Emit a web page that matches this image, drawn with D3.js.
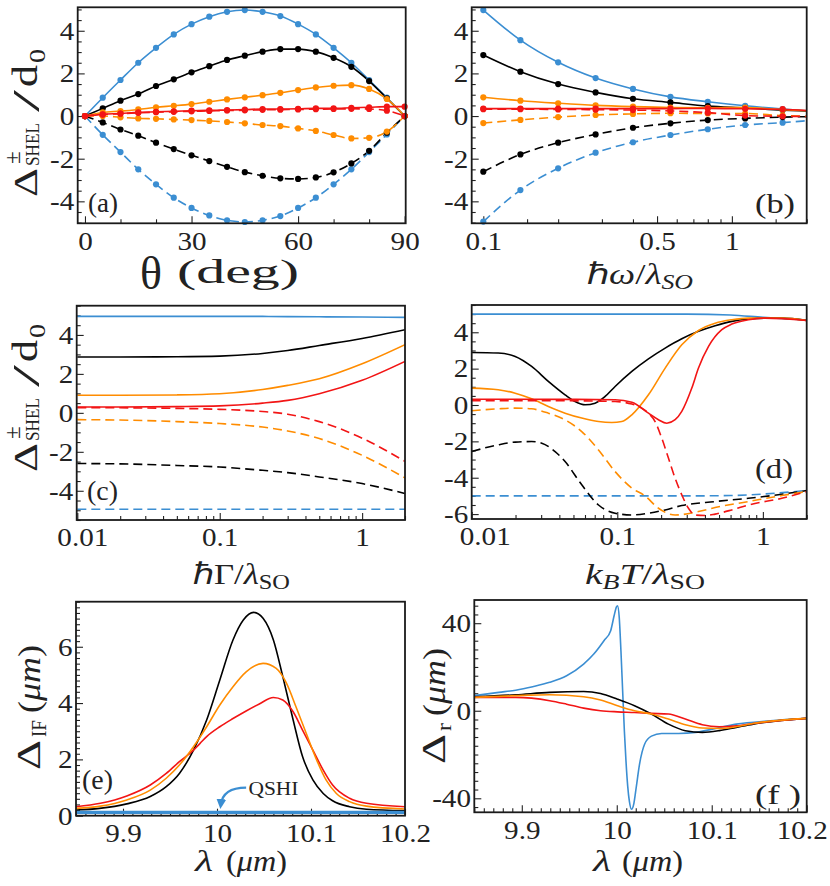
<!DOCTYPE html>
<html><head><meta charset="utf-8">
<script src="https://cdn.jsdelivr.net/npm/d3@7"></script>
<style>
body{margin:0;background:#fff}
svg text{font-family:"Liberation Serif","Times New Roman",Times,"Nimbus Roman",serif;fill:#222}
</style></head><body>
<svg id="c" width="830" height="886"></svg>
<script>
// ---------------- DATA ----------------
// (a) vs theta (deg)
const thetaDeg = [0,5,10,15,20,25,30,35,40,45,50,55,60,65,70,75,80,85,90];
const aBlueSolid   = [0,0.86,1.69,2.5,3.2,3.83,4.31,4.66,4.89,4.97,4.89,4.69,4.31,3.83,3.2,2.5,1.69,0.86,0];
const aBlueDashed  = [0,-0.88,-1.69,-2.5,-3.2,-3.83,-4.31,-4.66,-4.89,-4.97,-4.89,-4.69,-4.31,-3.83,-3.2,-2.5,-1.69,-0.86,0];
const aBlackSolid  = [0,0.36,0.72,1.03,1.41,1.72,2.05,2.34,2.63,2.83,3.02,3.14,3.14,3.02,2.73,2.31,1.64,0.83,0];
const aBlackDashed = [0,-0.3,-0.63,-0.92,-1.25,-1.55,-1.84,-2.11,-2.38,-2.63,-2.8,-2.92,-2.95,-2.88,-2.64,-2.22,-1.63,-0.78,0];
const aOrangeSolid = [0,0.17,0.23,0.31,0.41,0.48,0.56,0.67,0.78,0.88,0.98,1.09,1.22,1.34,1.42,1.45,1.27,0.8,0];
const aOrangeDashed= [0,0,-0.06,-0.11,-0.13,-0.16,-0.19,-0.23,-0.28,-0.34,-0.42,-0.47,-0.58,-0.7,-0.89,-1.05,-1.02,-0.73,0];
const aRedSolid    = [0,0.08,0.12,0.17,0.2,0.22,0.25,0.27,0.28,0.3,0.33,0.33,0.34,0.36,0.36,0.39,0.41,0.44,0.44];
const aRedDashed   = [0,0.07,0.11,0.15,0.18,0.2,0.22,0.24,0.26,0.27,0.29,0.3,0.31,0.32,0.33,0.34,0.33,0.25,0];

// (b) vs hbar omega / lambda_SO  (last x has no marker)
const omegaX        = [0.1,0.141,0.2,0.283,0.4,0.566,0.8,1.131,1.6,2.0];
const bBlueSolid    = [4.97,3.56,2.52,1.78,1.27,0.90,0.67,0.48,0.33,0.25];
const bBlackSolid   = [2.86,2.08,1.50,1.11,0.81,0.64,0.47,0.38,0.28,0.24];
const bOrangeSolid  = [0.88,0.72,0.60,0.50,0.44,0.40,0.39,0.40,0.30,0.25];
const bRedSolid     = [0.35,0.35,0.35,0.35,0.35,0.35,0.36,0.34,0.32,0.26];
const bRedDashed    = [0.32,0.32,0.31,0.30,0.28,0.24,0.16,0.02,-0.01,-0.02];
const bOrangeDashed = [-0.33,-0.18,-0.05,0.05,0.10,0.13,0.12,0.12,0.02,-0.01];
const bBlackDashed  = [-2.61,-1.80,-1.25,-0.86,-0.55,-0.34,-0.19,-0.11,-0.05,-0.03];
const bBlueDashed   = [-4.95,-3.47,-2.45,-1.72,-1.23,-0.89,-0.62,-0.42,-0.31,-0.22];

// (c) vs hbar Gamma / lambda_SO
const gammaX        = [0.01,0.02,0.05,0.1,0.2,0.3,0.5,1,2];
const cBlueSolid    = [4.95,4.95,4.95,4.95,4.95,4.94,4.93,4.92,4.9];
const cBlackSolid   = [2.87,2.87,2.88,2.91,3.05,3.2,3.46,3.82,4.27];
const cOrangeSolid  = [0.9,0.9,0.92,0.98,1.2,1.41,1.75,2.52,3.5];
const cRedSolid     = [0.3,0.3,0.32,0.36,0.5,0.64,0.98,1.67,2.64];
const cRedDashed    = [0.27,0.26,0.23,0.18,0.07,-0.07,-0.45,-1.3,-2.49];
const cOrangeDashed = [-0.35,-0.37,-0.45,-0.55,-0.73,-0.93,-1.32,-2.18,-3.34];
const cBlackDashed  = [-2.6,-2.62,-2.7,-2.78,-2.95,-3.07,-3.29,-3.63,-4.14];
const cBlueDashed   = [-4.95,-4.95,-4.95,-4.95,-4.95,-4.95,-4.95,-4.95,-4.95];

// (d) vs k_B T / lambda_SO
const dBlueSolidX   = [0.01,0.3,0.6,1,2];
const dBlueSolid    = [5.0,5.0,4.95,4.82,4.68];
const dBlueDashedX  = [0.01,0.3,0.6,1,2];
const dBlueDashed   = [-5.0,-5.0,-4.98,-4.9,-4.7];
const dBlackSolidX  = [0.01,0.0152,0.0199,0.0258,0.0336,0.0438,0.0513,0.0601,0.0704,0.0825,0.0966,0.1259,0.1637,0.2133,0.2773,0.3612,0.47,0.612,0.796,1.037,1.35,2.0];
const dBlackSolid   = [2.89,2.86,2.67,2.12,1.3,0.56,0.19,0.01,0.1,0.47,1.02,1.85,2.54,3.13,3.64,4.05,4.36,4.6,4.73,4.78,4.78,4.65];
const dOrangeSolidX = [0.01,0.0152,0.0199,0.0258,0.0336,0.0438,0.057,0.0743,0.0916,0.1074,0.1259,0.1637,0.2133,0.2773,0.3612,0.47,0.612,0.796,1.35,2.0];
const dOrangeSolid  = [0.93,0.84,0.65,0.34,-0.08,-0.45,-0.72,-0.91,-0.96,-0.91,-0.54,0.56,2.03,3.31,4.1,4.5,4.69,4.78,4.78,4.65];
const dRedSolidX    = [0.01,0.0199,0.0438,0.0966,0.1259,0.1637,0.1918,0.2188,0.2497,0.2773,0.325,0.3612,0.4234,0.5224,0.612,0.796,1.037,2.0];
const dRedSolid     = [0.32,0.32,0.31,0.29,0.15,-0.45,-0.81,-1.0,-0.81,-0.35,0.93,2.03,3.22,4.14,4.45,4.69,4.78,4.65];
const dRedDashedX   = [0.01,0.0199,0.0438,0.0966,0.1259,0.1474,0.1637,0.1818,0.2022,0.2248,0.2497,0.2773,0.3083,0.3426,0.4016,0.47,0.612,0.796,1.35,2.0];
const dRedDashed    = [0.23,0.23,0.23,0.19,0.05,-0.17,-0.45,-0.91,-1.83,-2.93,-4.03,-4.94,-5.68,-6.05,-6.08,-6.0,-5.77,-5.5,-5.13,-4.76];
const dOrangeDashedX= [0.01,0.0152,0.0199,0.0258,0.0336,0.0438,0.057,0.0743,0.0966,0.1259,0.1552,0.1918,0.2497,0.3612,0.47,0.796,1.35,2.0];
const dOrangeDashed = [-0.32,-0.21,-0.17,-0.21,-0.45,-0.82,-1.46,-2.47,-3.66,-4.57,-5.0,-5.68,-6.05,-5.86,-5.64,-5.31,-4.98,-4.76];
const dBlackDashedX = [0.01,0.0152,0.0199,0.0258,0.0303,0.0374,0.0438,0.057,0.0743,0.0966,0.1259,0.1637,0.2133,0.2773,0.47,0.796,1.35,2.0];
const dBlackDashed  = [-2.56,-2.19,-2.04,-2.01,-2.1,-2.56,-3.11,-4.39,-5.5,-5.95,-6.05,-5.95,-5.77,-5.53,-5.31,-5.13,-4.91,-4.7];

// (e) Delta_IF vs lambda (um)
const eBlackX  = [9.85,9.875,9.904,9.929,9.946,9.96,9.975,9.989,10.003,10.017,10.028,10.039,10.049,10.06,10.07,10.081,10.091,10.102,10.113,10.123,10.141,10.159,10.2];
const eBlack   = [0.2,0.26,0.42,0.68,1.03,1.5,2.33,3.4,4.82,6.24,6.95,7.22,7.01,6.24,4.94,3.4,2.1,1.27,0.79,0.53,0.32,0.23,0.18];
const eOrangeX = [9.85,9.876,9.904,9.929,9.946,9.96,9.975,9.989,10.003,10.017,10.031,10.049,10.063,10.074,10.084,10.095,10.106,10.116,10.127,10.141,10.159,10.2];
const eOrange  = [0.26,0.34,0.56,0.91,1.33,1.8,2.45,3.16,3.93,4.58,5.11,5.41,5.23,4.7,3.87,2.92,1.98,1.27,0.79,0.5,0.34,0.24];
const eRedX    = [9.85,9.876,9.904,9.929,9.946,9.96,9.975,9.982,9.989,10.003,10.017,10.031,10.045,10.06,10.07,10.081,10.091,10.102,10.113,10.123,10.141,10.159,10.2];
const eRed     = [0.32,0.44,0.7,1.09,1.5,1.92,2.33,2.57,2.81,3.16,3.45,3.72,3.97,4.2,4.11,3.69,3.04,2.33,1.62,1.09,0.62,0.44,0.32];
const eBlueX   = [9.85,10.2];
const eBlue    = [0.12,0.12];

// (f) Delta_r vs lambda (um)
const fBlueX  = [9.85,9.8758,9.8936,9.9115,9.9294,9.9472,9.9651,9.9758,9.9865,9.9936,9.9972,9.9997,10.0008,10.0026,10.0044,10.0062,10.008,10.0097,10.0115,10.0133,10.0155,10.018,10.0205,10.024,10.0294,10.0365,10.0472,10.0651,10.0829,10.1008,10.1258,10.1616,10.2];
const fBlue   = [6.9,8.4,9.4,11,13,16,21.3,25.9,32,36.6,43.4,47.5,48,42.7,27.4,9.1,-9.1,-22.9,-34.3,-41.4,-45,-42.4,-35,-24.4,-15.2,-11.6,-10.4,-10.4,-9.9,-8.4,-6.1,-4.6,-3.5];
const fBlackX = [9.85,9.8936,9.9294,9.9651,9.9829,10.0008,10.0187,10.0365,10.0544,10.0722,10.0901,10.108,10.1258,10.1437,10.2];
const fBlack  = [6.4,7.3,8.4,8.8,7.9,5.3,2.3,-1.5,-6.1,-9.1,-9.9,-9.1,-7.6,-6.1,-3.5];
const fOrangeX= [9.85,9.8936,9.9294,9.9651,9.9829,10.0008,10.0187,10.0365,10.0544,10.0722,10.0901,10.108,10.1258,10.1437,10.2];
const fOrange = [6.1,6.9,7.3,6.4,4.9,2.3,0,-1.5,-3.8,-6.4,-7.9,-8.1,-7.3,-5.8,-3.5];
const fRedX   = [9.85,9.8936,9.9294,9.9472,9.9651,9.9829,10.0008,10.0187,10.0365,10.0544,10.0722,10.0901,10.108,10.1258,10.1437,10.2];
const fRed    = [6.1,6.1,4.6,3.0,1.2,0,-0.5,-0.8,-1.2,-1.5,-3.8,-6.4,-7.3,-6.9,-5.8,-3.5];

// tick labels
const aXTicks = [0,30,60,90];
const shelYTicks = [-4,-2,0,2,4];
const bXTicks = [0.1,0.5,1];
const logXTicks = [0.01,0.1,1];
const dYTicks = [-6,-4,-2,0,2,4];
const lamXTicks = [9.9,10,10.1,10.2];
const eYTicks = [0,2,4,6];
const fYTicks = [-40,0,40];

// ---------------- DRAWING ----------------
const BLUE="#3b8ed2", BLACK="#000000", ORANGE="#ff8c00", RED="#f21515";
const svg = d3.select("#c");
const defs = svg.append("defs");
const SX = 1.12; // horizontal stretch of tick labels
const TFS = 26;  // tick label font size

function inDom(v, d){ const lo=Math.min(d[0],d[1]), hi=Math.max(d[0],d[1]); return v>=lo-1e-9 && v<=hi+1e-9; }

function panel(o){
  const [l,t,r,b]=o.box;
  const x=(o.xlog?d3.scaleLog():d3.scaleLinear()).domain(o.xd).range([l,r]);
  const y=d3.scaleLinear().domain(o.yd).range([b,t]);
  const id="clip-"+o.id;
  defs.append("clipPath").attr("id",id).append("rect").attr("x",l).attr("y",t).attr("width",r-l).attr("height",b-t);
  const g=svg.append("g");
  const style=(sel)=>{
    sel.attr("font-size",null).attr("font-family",null);
    sel.select(".domain").remove();
    sel.selectAll(".tick line").attr("stroke","#222").attr("stroke-width",1.1);
    sel.selectAll(".tick text").attr("font-size",TFS).attr("fill","#222").attr("transform",`scale(${SX},1)`);
  };
  const xMinor=o.xMinor.filter(v=>inDom(v,o.xd)&&!o.xMajor.includes(v));
  const yMinor=o.yMinor.filter(v=>inDom(v,o.yd)&&!o.yMajor.includes(v));
  g.append("g").attr("transform",`translate(0,${b})`).call(d3.axisBottom(x).tickValues(xMinor).tickSize(-4).tickFormat("")).call(style);
  const xa=g.append("g").attr("transform",`translate(0,${b})`).call(d3.axisBottom(x).tickValues(o.xMajor).tickSize(-7).tickPadding(8).tickFormat(o.xFmt||(d=>String(d)))).call(style);
  if(o.firstShift) xa.select(".tick text").attr("x",o.firstShift/SX);
  if(o.lastShift) d3.select(xa.selectAll(".tick text").nodes().pop()).attr("x",o.lastShift/SX);
  g.append("g").attr("transform",`translate(${l},0)`).call(d3.axisLeft(y).tickValues(yMinor).tickSize(-4).tickFormat("")).call(style);
  g.append("g").attr("transform",`translate(${l},0)`).call(d3.axisLeft(y).tickValues(o.yMajor).tickSize(-7).tickPadding(3).tickFormat(d=>String(d))).call(style);
  const plot=g.append("g").attr("clip-path",`url(#${id})`);
  const marks=g.append("g");
  g.append("rect").attr("x",l).attr("y",t).attr("width",r-l).attr("height",b-t)
    .attr("fill","none").attr("stroke","#1a1a1a").attr("stroke-width",1.8);
  return {x,y,plot,marks,g};
}

function series(p, xs, ys, color, dashed, nMarkers, width){
  const data=d3.zip(xs,ys);
  const line=d3.line().x(d=>p.x(d[0])).y(d=>p.y(d[1])).curve(d3.curveMonotoneX);
  p.plot.append("path").datum(data).attr("d",line).attr("fill","none")
    .attr("stroke",color).attr("stroke-width",width||1.6)
    .attr("stroke-dasharray",dashed?"9,5":null);
  if(nMarkers){
    p.marks.selectAll(null).data(data.slice(0,nMarkers)).enter().append("circle")
      .attr("cx",d=>p.x(d[0])).attr("cy",d=>p.y(d[1])).attr("r",3.1).attr("fill",color);
  }
}

function label(x,y,txt,len){
  const t=svg.append("text").attr("x",x).attr("y",y).attr("font-size",28).text(txt);
  if(len) t.attr("textLength",len).attr("lengthAdjust","spacingAndGlyphs");
}

function deltaShelTitle(xb, ys){
  const g=svg.append("g").attr("transform",`translate(${xb},${ys}) rotate(-90)`);
  g.append("text").attr("x",0).attr("y",0).attr("font-size",34).attr("textLength",29).attr("lengthAdjust","spacingAndGlyphs").text("Δ");
  g.append("text").attr("x",33).attr("y",-17).attr("font-size",23).text("±");
  g.append("text").attr("x",31).attr("y",2).attr("font-size",19).attr("textLength",43).attr("lengthAdjust","spacingAndGlyphs").text("SHEL");
  g.append("text").attr("x",85).attr("y",2).attr("font-size",38).attr("textLength",22).attr("lengthAdjust","spacingAndGlyphs").text("/");
  g.append("text").attr("x",110).attr("y",0).attr("font-size",35).attr("textLength",22).attr("lengthAdjust","spacingAndGlyphs").text("d");
  g.append("text").attr("x",134).attr("y",8).attr("font-size",23).attr("textLength",14).attr("lengthAdjust","spacingAndGlyphs").text("0");
}

function deltaTitle(xb, ys, sub, subLen){
  const g=svg.append("g").attr("transform",`translate(${xb},${ys}) rotate(-90)`);
  g.append("text").attr("x",0).attr("y",0).attr("font-size",34).attr("textLength",30).attr("lengthAdjust","spacingAndGlyphs").text("Δ");
  g.append("text").attr("x",33).attr("y",6).attr("font-size",21).attr("textLength",subLen).attr("lengthAdjust","spacingAndGlyphs").text(sub);
  const t=g.append("text").attr("x",33+subLen+7).attr("y",0).attr("font-size",31)
    .attr("textLength",68).attr("lengthAdjust","spacingAndGlyphs");
  t.append("tspan").text("(");
  t.append("tspan").attr("font-style","italic").text("μm");
  t.append("tspan").text(")");
}

// ----- (a) -----
const pa=panel({id:"a",box:[77.7,7.3,405.7,223.3],xd:[-2.05,90.3],yd:[-5.03,5.1],
  xMajor:aXTicks,xMinor:d3.range(0,91,10),yMajor:shelYTicks,yMinor:d3.range(-5,5.01,0.5)});
[[aBlueDashed,BLUE,1],[aBlueSolid,BLUE,0],[aBlackDashed,BLACK,1],[aBlackSolid,BLACK,0],
 [aOrangeDashed,ORANGE,1],[aOrangeSolid,ORANGE,0],[aRedDashed,RED,1],[aRedSolid,RED,0]]
 .forEach(s=>series(pa,thetaDeg,s[0],s[1],s[2],thetaDeg.length));
label(88,212,"(a)",30);
deltaShelTitle(37,197);
svg.append("text").attr("x",140).attr("y",289).attr("font-size",46).attr("textLength",22).attr("lengthAdjust","spacingAndGlyphs").text("θ");
svg.append("text").attr("x",177).attr("y",283).attr("font-size",33).attr("textLength",122).attr("lengthAdjust","spacingAndGlyphs").text("(deg)");

// ----- (b) -----
const pb=panel({id:"b",box:[471.7,7.3,806.7,223.3],xlog:true,xd:[0.0898,2.0],yd:[-5.03,5.1],
  xMajor:bXTicks,xMinor:[0.15,0.2,0.3,0.4,0.6,0.7,0.8,0.9,1.5,2],yMajor:shelYTicks,yMinor:d3.range(-5,5.01,0.5)});
[[bBlueDashed,BLUE,1],[bBlueSolid,BLUE,0],[bBlackDashed,BLACK,1],[bBlackSolid,BLACK,0],
 [bOrangeDashed,ORANGE,1],[bOrangeSolid,ORANGE,0],[bRedDashed,RED,1],[bRedSolid,RED,0]]
 .forEach(s=>series(pb,omegaX,s[0],s[1],s[2],9));
label(755,213,"(b)",40);
{const t=svg.append("text").attr("x",587).attr("y",284).attr("font-size",30).attr("textLength",106).attr("lengthAdjust","spacingAndGlyphs");
 t.append("tspan").text("ℏ");
 t.append("tspan").attr("font-style","italic").text("ω");
 t.append("tspan").text("/");
 t.append("tspan").attr("font-style","italic").text("λ");
 t.append("tspan").attr("font-style","italic").attr("font-size",21).attr("dy",5).text("SO");}

// ----- (c) -----
const pc=panel({id:"c",box:[76.7,305.7,405,520],xlog:true,xd:[0.0099,2.0],yd:[-5.5,5.5],firstShift:5,
  xMajor:logXTicks,xMinor:[0.02,0.03,0.04,0.05,0.06,0.07,0.08,0.09,0.2,0.3,0.4,0.5,0.6,0.7,0.8,0.9,2],
  yMajor:shelYTicks,yMinor:d3.range(-5.5,5.51,0.5)});
[[cBlueDashed,BLUE,1],[cBlueSolid,BLUE,0],[cBlackDashed,BLACK,1],[cBlackSolid,BLACK,0],
 [cOrangeDashed,ORANGE,1],[cOrangeSolid,ORANGE,0],[cRedDashed,RED,1],[cRedSolid,RED,0]]
 .forEach(s=>series(pc,gammaX,s[0],s[1],s[2],0));
label(87,500,"(c)",31);
deltaShelTitle(37,472);
{const t=svg.append("text").attr("x",193).attr("y",584).attr("font-size",30).attr("textLength",97).attr("lengthAdjust","spacingAndGlyphs");
 t.append("tspan").text("ℏΓ/");
 t.append("tspan").attr("font-style","italic").text("λ");
 t.append("tspan").attr("font-size",21).attr("dy",5).text("SO");}

// ----- (d) -----
const pd=panel({id:"d",box:[471.7,305,806.7,519],xlog:true,xd:[0.01,2.0],yd:[-6.27,5.5],firstShift:13,
  xMajor:logXTicks,xMinor:[0.02,0.03,0.04,0.05,0.06,0.07,0.08,0.09,0.2,0.3,0.4,0.5,0.6,0.7,0.8,0.9,2],
  yMajor:dYTicks,yMinor:d3.range(-6,5.51,0.5)});
series(pd,dBlueDashedX,dBlueDashed,BLUE,1,0);
series(pd,dBlueSolidX,dBlueSolid,BLUE,0,0);
series(pd,dBlackDashedX,dBlackDashed,BLACK,1,0);
series(pd,dBlackSolidX,dBlackSolid,BLACK,0,0);
series(pd,dOrangeDashedX,dOrangeDashed,ORANGE,1,0);
series(pd,dOrangeSolidX,dOrangeSolid,ORANGE,0,0);
series(pd,dRedDashedX,dRedDashed,RED,1,0);
series(pd,dRedSolidX,dRedSolid,RED,0,0);
label(755,478,"(d)",38);
{const t=svg.append("text").attr("x",585).attr("y",584).attr("font-size",30).attr("textLength",120).attr("lengthAdjust","spacingAndGlyphs");
 t.append("tspan").attr("font-style","italic").text("k");
 t.append("tspan").attr("font-style","italic").attr("font-size",21).attr("dy",5).text("B");
 t.append("tspan").attr("font-style","italic").attr("dy",-5).text("T");
 t.append("tspan").text("/");
 t.append("tspan").attr("font-style","italic").text("λ");
 t.append("tspan").attr("font-size",21).attr("dy",5).text("SO");}

// ----- (e) -----
const pe=panel({id:"e",box:[76,601.7,405,815.7],xd:[9.85,10.2],yd:[0,7.6],
  xMajor:lamXTicks,xMinor:d3.range(9.85,10.2001,0.01).map(v=>+v.toFixed(2)),yMajor:eYTicks,yMinor:d3.range(0,7.61,0.2).map(v=>+v.toFixed(1))});
series(pe,eBlackX,eBlack,BLACK,0,0);
series(pe,eRedX,eRed,RED,0,0);
series(pe,eOrangeX,eOrange,ORANGE,0,0);
series(pe,eBlueX,eBlue,BLUE,0,0,3.2);
label(82,789,"(e)",31);
deltaTitle(40,770,"IF",17);
// QSHI annotation
defs.append("marker").attr("id","arr").attr("viewBox","0 0 10 10").attr("refX",6).attr("refY",5)
  .attr("markerWidth",4.5).attr("markerHeight",4.5).attr("orient","auto")
  .append("path").attr("d","M0,0L10,5L0,10z").attr("fill",BLUE);
{const p=d3.path(); p.moveTo(pe.x(10.031),pe.y(1.0)); p.quadraticCurveTo(pe.x(10.006),pe.y(1.0),pe.x(10.004),pe.y(0.38));
 svg.append("path").attr("d",p.toString()).attr("fill","none").attr("stroke",BLUE).attr("stroke-width",2.2).attr("marker-end","url(#arr)");
 svg.append("text").attr("x",pe.x(10.0335)).attr("y",pe.y(0.72)).attr("font-size",19).attr("textLength",50).attr("lengthAdjust","spacingAndGlyphs").text("QSHI");}
svg.append("text").attr("x",195).attr("y",871).attr("font-size",30).attr("font-style","italic").attr("textLength",18).attr("lengthAdjust","spacingAndGlyphs").text("λ");
{const t2=svg.append("text").attr("x",226).attr("y",871).attr("font-size",29).attr("textLength",61).attr("lengthAdjust","spacingAndGlyphs");
 t2.append("tspan").text("("); t2.append("tspan").attr("font-style","italic").text("μm"); t2.append("tspan").text(")");}

// ----- (f) -----
const pf=panel({id:"f",box:[474.3,600,806.7,812.3],xd:[9.85,10.2],yd:[-46.4,50.6],lastShift:-5,
  xMajor:lamXTicks,xMinor:d3.range(9.85,10.2001,0.01).map(v=>+v.toFixed(2)),yMajor:fYTicks,yMinor:d3.range(-44,49,4)});
series(pf,fBlueX,fBlue,BLUE,0,0);
series(pf,fBlackX,fBlack,BLACK,0,0);
series(pf,fRedX,fRed,RED,0,0);
series(pf,fOrangeX,fOrange,ORANGE,0,0);
label(755,804,"(f )",46);
deltaTitle(445,764,"r",8);
svg.append("text").attr("x",593).attr("y",871).attr("font-size",30).attr("font-style","italic").attr("textLength",18).attr("lengthAdjust","spacingAndGlyphs").text("λ");
{const t2=svg.append("text").attr("x",622).attr("y",871).attr("font-size",29).attr("textLength",61).attr("lengthAdjust","spacingAndGlyphs");
 t2.append("tspan").text("("); t2.append("tspan").attr("font-style","italic").text("μm"); t2.append("tspan").text(")");}
</script>
</body></html>
